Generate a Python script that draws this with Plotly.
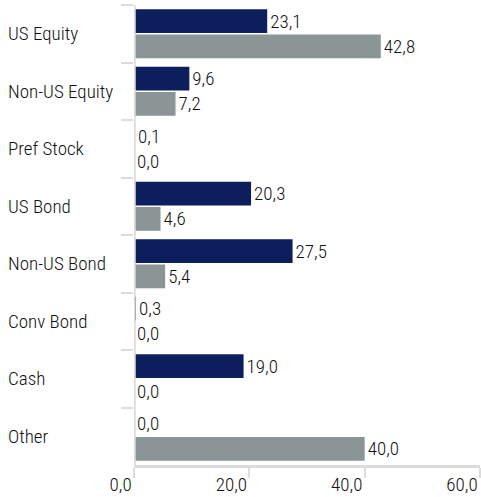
import plotly.graph_objects as go

categories = ["US Equity", "Non-US Equity", "Pref Stock", "US Bond", "Non-US Bond", "Conv Bond", "Cash", "Other"]
portfolio = [23.1, 9.6, 0.1, 20.3, 27.5, 0.3, 19.0, 0.0]
benchmark = [42.8, 7.2, 0.0, 4.6, 5.4, 0.0, 0.0, 40.0]
x_ticks = [0, 20, 40, 60]

FONT = "Liberation Sans Narrow, Roboto Condensed, DejaVu Sans Condensed, Arial Narrow, sans-serif"
LINE = "#dcdcdc"
TXT = "#111111"

fig = go.Figure()
fig.add_trace(go.Bar(y=categories, x=portfolio, orientation="h", name="Portfolio",
                     marker=dict(color="#0c1f5c", line=dict(width=0)),
                     texttemplate="%{x:.1f}", textposition="outside", cliponaxis=False,
                     textfont=dict(family=FONT, size=19, color=TXT, weight=300)))
fig.add_trace(go.Bar(y=categories, x=benchmark, orientation="h", name="Benchmark",
                     marker=dict(color="#8c9595", line=dict(width=0)),
                     texttemplate="%{x:.1f}", textposition="outside", cliponaxis=False,
                     textfont=dict(family=FONT, size=19, color=TXT, weight=300)))

annotations = [dict(x=-128 / 345, xref="paper", y=c, yref="y", text=c, showarrow=False,
                    xanchor="left", yanchor="middle",
                    font=dict(family=FONT, size=19, color=TXT, weight=300)) for c in categories]

fig.update_layout(
    width=481, height=497,
    margin=dict(l=134, r=1, t=5, b=32, autoexpand=False),
    barmode="group", bargap=0.12, bargroupgap=0.06,
    separators=",.",
    showlegend=False,
    plot_bgcolor="white", paper_bgcolor="white",
    font=dict(family=FONT, size=19, color=TXT, weight=300),
    annotations=annotations,
    shapes=[dict(type="line", xref="x", yref="paper", x0=0, x1=0, y0=0, y1=1,
                 line=dict(color=LINE, width=3.5), layer="above")],
)
fig.update_xaxes(range=[0, 60], tickvals=x_ticks, tickformat=".1f",
                 ticks="outside", ticklen=10, tickwidth=2, tickcolor=LINE,
                 ticklabelposition="outside left", ticklabelstandoff=0,
                 showline=True, linecolor=LINE, linewidth=2.5,
                 showgrid=False, zeroline=False, automargin=False,
                 tickfont=dict(family=FONT, size=19, color=TXT, weight=300))
fig.update_yaxes(autorange="reversed", type="category",
                 tickson="boundaries", ticks="outside", ticklen=12, tickwidth=2, tickcolor=LINE,
                 showticklabels=False, automargin=False,
                 showline=False,
                 showgrid=False, zeroline=False)

fig.write_html("out.html", config={"displayModeBar": False},
               post_script="document.body.style.margin='0';document.body.style.overflow='hidden';")
